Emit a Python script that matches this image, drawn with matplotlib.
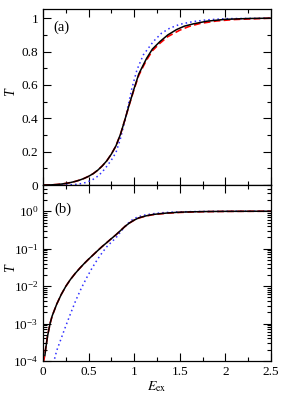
import numpy as np
import matplotlib.pyplot as plt
from matplotlib.ticker import MultipleLocator, FuncFormatter, LogLocator, NullFormatter

plt.rcParams['font.family'] = ['Liberation Serif', 'DejaVu Serif']
plt.rcParams['mathtext.fontset'] = 'stix'

# черная сплошная
e_black = [0.02, 0.03, 0.05, 0.077, 0.1, 0.15, 0.2, 0.25, 0.3, 0.35, 0.4, 0.45, 0.5, 0.55,
           0.6, 0.65, 0.7, 0.75, 0.8, 0.85, 0.9, 0.95, 1.0, 1.05, 1.1, 1.137, 1.2, 1.283,
           1.37, 1.466, 1.55, 1.65, 1.8, 2.0, 2.25, 2.5]
t_black = [1.4e-4, 2.2e-4, 4.7e-4, 1.0e-3, 1.6e-3, 3.3e-3, 6.0e-3, 9.9e-3, 1.5e-2, 2.14e-2,
           2.95e-2, 3.98e-2, 5.25e-2, 6.84e-2, 8.9e-2, 0.115, 0.146, 0.186, 0.235, 0.305,
           0.395, 0.49, 0.58, 0.665, 0.72, 0.76, 0.815, 0.86, 0.9, 0.932, 0.952, 0.966,
           0.982, 0.993, 0.998, 1.0]

# красная штриховая
e_red = [0.005, 0.02, 0.03, 0.05, 0.077, 0.1, 0.15, 0.2, 0.25, 0.3, 0.35, 0.4, 0.45, 0.5, 0.55,
         0.6, 0.65, 0.7, 0.75, 0.8, 0.85, 0.9, 0.95, 1.0, 1.05, 1.1, 1.137, 1.2, 1.283,
         1.37, 1.5, 1.6, 1.72, 1.9, 2.1, 2.5]
t_red = [9e-5, 1.5e-4, 2.3e-4, 4.8e-4, 1.0e-3, 1.6e-3, 3.3e-3, 6.0e-3, 9.9e-3, 1.5e-2, 2.14e-2,
         2.95e-2, 3.98e-2, 5.25e-2, 6.84e-2, 8.9e-2, 0.115, 0.146, 0.186, 0.235, 0.305,
         0.395, 0.488, 0.576, 0.657, 0.712, 0.75, 0.805, 0.85, 0.89, 0.928, 0.95, 0.968,
         0.983, 0.992, 1.0]

# синяя пунктирная
e_blue = [0.1, 0.12, 0.15, 0.18, 0.24, 0.3, 0.36, 0.42, 0.48, 0.54, 0.6, 0.65, 0.7, 0.75, 0.8,
          0.85, 0.9, 0.935, 0.975, 1.03, 1.1, 1.21, 1.3, 1.39, 1.5, 1.65, 1.8, 2.0, 2.5]
t_blue = [5e-5, 1.0e-4, 1.9e-4, 3.0e-4, 7.5e-4, 1.8e-3, 4.2e-3, 8.8e-3, 1.7e-2, 3.1e-2, 5.3e-2,
          7.9e-2, 0.113, 0.15, 0.195, 0.28, 0.39, 0.48, 0.58, 0.69, 0.78, 0.86, 0.91, 0.94,
          0.963, 0.98, 0.99, 0.997, 1.0]

fig = plt.figure(figsize=(2.99, 3.98), dpi=100)
ax1 = fig.add_axes([0.144, 0.535, 0.762, 0.442])
ax2 = fig.add_axes([0.144, 0.093, 0.762, 0.442])

for ax in (ax1, ax2):
    ax.plot(e_blue, t_blue, color='#3030ff', ls=(0, (1, 2)), lw=1.1)
    ax.plot(e_red, t_red, color='red', ls=(0, (4, 2)), lw=1.2)
    ax.plot(e_black, t_black, color='black', lw=1.1)
    ax.set_xlim(0, 2.5)
    ax.xaxis.set_major_locator(MultipleLocator(0.5))
    ax.xaxis.set_minor_locator(MultipleLocator(0.25))
    ax.tick_params(which='both', direction='in', top=True, right=True, labelsize=9.5, width=0.8)
    ax.tick_params(which='major', length=6)
    ax.tick_params(which='minor', length=3)
    for s in ax.spines.values():
        s.set_linewidth(0.9)
    ax.set_ylabel('T', fontstyle='italic', fontsize=10)
    ax.yaxis.set_label_coords(-0.115, 0.53)

ax1.set_ylim(0, 1.054)
ax1.yaxis.set_major_locator(MultipleLocator(0.2))
ax1.yaxis.set_minor_locator(MultipleLocator(0.1))
ax1.yaxis.set_major_formatter(FuncFormatter(lambda v, p: '%g' % round(v, 2)))
ax1.tick_params(labelbottom=False)
ax1.text(0.044, 0.875, '(a)', transform=ax1.transAxes, fontsize=10.5, va='baseline')

ax2.set_yscale('log')
ax2.set_ylim(1e-4, 5)
ax2.yaxis.set_major_locator(LogLocator(base=10, numticks=10))
ax2.yaxis.set_minor_locator(LogLocator(base=10, subs=np.arange(2, 10), numticks=10))
ax2.yaxis.set_minor_formatter(NullFormatter())
ax2.xaxis.set_major_formatter(FuncFormatter(lambda v, p: '%g' % v))
ax2.text(0.05, 0.84, '(b)', transform=ax2.transAxes, fontsize=10.5, va='baseline')
ax2.set_xlabel('$E_{\\mathrm{ex}}$', fontsize=10, labelpad=1)

fig.savefig('out.png', dpi=100)
